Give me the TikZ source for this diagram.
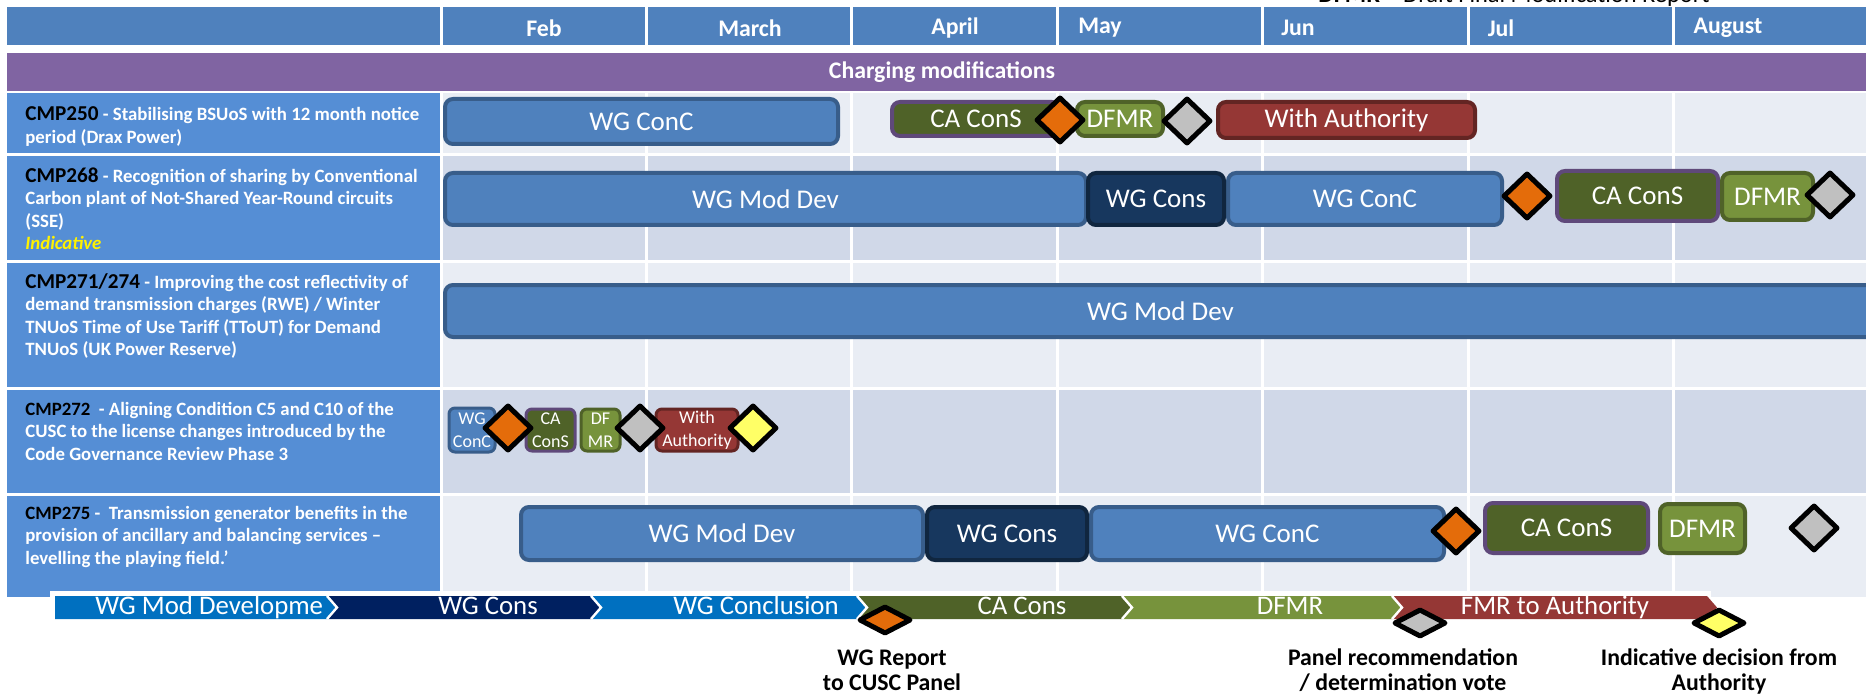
\documentclass[tikz,border=0pt]{standalone}
\usepackage{fontspec}
\setmainfont{Carlito}
\usetikzlibrary{shapes.geometric,fit}

\definecolor{hdrblue}{HTML}{4F81BD}
\definecolor{leftblue}{HTML}{558ED5}
\definecolor{sectpurple}{HTML}{8064A2}
\definecolor{bandA}{HTML}{E9EDF4}
\definecolor{bandB}{HTML}{D0D8E8}
\definecolor{wgblue}{HTML}{4F81BD}
\definecolor{wgline}{HTML}{385D8A}
\definecolor{wgnavy}{HTML}{17375E}
\definecolor{wgnavyline}{HTML}{10263F}
\definecolor{caolive}{HTML}{4F6228}
\definecolor{caline}{HTML}{5F497A}
\definecolor{dfgreen}{HTML}{77933C}
\definecolor{authred}{HTML}{953735}
\definecolor{authline}{HTML}{632523}
\definecolor{msorange}{HTML}{E46C0A}
\definecolor{msgray}{HTML}{C0C0C0}
\definecolor{msyellow}{HTML}{FFFF66}
\definecolor{chblue}{HTML}{0070C0}
\definecolor{chnavy}{HTML}{002060}

% modification number at the start of a row label
\newcommand{\cmpid}[2][10.6]{{\color{black}\fontsize{#1}{11.25}\selectfont #2}}

\begin{document}
\begin{tikzpicture}[
  x=0.5pt, y=-0.5pt,
  every node/.style={inner sep=0pt, text=white},
  month/.style={font=\fontsize{11.9}{14}\selectfont\bfseries},
  cmplbl/.style={anchor=base west, align=left,
    font=\fontsize{9.4}{11.25}\selectfont\bfseries},
  task/.style={draw, rounded corners=4pt, line width=2pt},
  bartxt/.style={font=\fontsize{13.5}{15}\selectfont},
  stub/.style={line width=1.5pt, rounded corners=3pt},
  stubtxt/.style={align=center, font=\fontsize{9}{11.5}\selectfont},
  wgbar/.style={task, fill=wgblue, draw=wgline},
  consbar/.style={task, fill=wgnavy, draw=wgnavyline},
  cabar/.style={task, fill=caolive, draw=caline},
  dfbar/.style={task, fill=dfgreen, draw=caolive},
  authbar/.style={task, fill=authred, draw=authline},
  mile/.style={diamond, draw=black, line width=2.5pt, line join=round,
    minimum width=24pt, minimum height=23pt},
  keymile/.style={mile, minimum width=26pt, minimum height=14pt},
  chevtxt/.style={anchor=base, font=\fontsize{13.4}{15}\selectfont},
  keylbl/.style={anchor=base, align=center, text=black,
    font=\fontsize{11.9}{12.5}\selectfont\bfseries}
]
\useasboundingbox (0,0) rectangle (1866,695);

\node[anchor=base west, text=black, font=\fontsize{12.2}{14}\selectfont]
  (dfmrkey) at (1318,3) {\textbf{DFMR} – Draft Final Modification Report};

% header row
\fill[hdrblue] (7,7) rectangle (439.5,45);
\foreach \i in {0,...,6}
  \fill[hdrblue] ({442.5+205.4*\i},7) rectangle ({439.5+205.4*(\i+1)},45);
\foreach \mx/\mname [count=\i] in {544/Feb,750/March,955/April,1100/May,1298/Jun,1501/Jul,1728/August}
  \node[month] (mon\i) at (\mx,28) {\mname};

\fill[sectpurple] (7,53) rectangle (1880,91);
\node[month] (section) at (942,72) {Charging modifications};

% banded rows
\foreach \ya/\yb/\band in {93/153/bandA,156/260/bandB,263/387/bandA,390/493/bandB,496/597/bandA} {
  \fill[leftblue] (7,\ya) rectangle (439.5,\yb);
  \foreach \i in {0,...,6}
    \fill[\band] ({442.5+205.4*\i},\ya) rectangle ({439.5+205.4*(\i+1)},\yb);
}

% row labels (base = last line)
\node[cmplbl] (cmp250) at (25,143.5) {\cmpid{CMP250} - Stabilising BSUoS with 12 month notice\\period (Drax Power)};
\node[cmplbl] (cmp268) at (25,249.5) {\cmpid{CMP268} - Recognition of sharing by Conventional\\Carbon plant of Not-Shared Year-Round circuits\\(SSE)\\{\color{yellow}\itshape Indicative}};
\node[cmplbl] (cmp271) at (25,355.5) {\cmpid{CMP271/274} - Improving the cost reflectivity of\\demand transmission charges (RWE) / Winter\\TNUoS Time of Use Tariff (TToUT) for Demand\\TNUoS (UK Power Reserve)};
\node[cmplbl] (cmp272) at (25,460) {\cmpid[9.4]{CMP272}\ \ - Aligning Condition C5 and C10 of the\\CUSC to the license changes introduced by the\\Code Governance Review Phase 3};
\node[cmplbl] (cmp275) at (25,564) {\cmpid[9.4]{CMP275} -\ \ Transmission generator benefits in the\\provision of ancillary and balancing services –\\levelling the playing field.’};

% CMP250
\node[wgbar, fit={(445,99) (838,144)}, label={[bartxt]center:WG ConC}] (r1conc) {};
\node[cabar, fit={(892,102) (1060,136)}, label={[bartxt]center:CA ConS}] (r1cas) {};
\node[dfbar, fit={(1077,102) (1163,136)}, label={[bartxt]center:DFMR}] (r1dfmr) {};
\node[authbar, fit={(1218,102) (1475,138)}, label={[bartxt]center:With Authority}] (r1auth) {};
\node[mile, fill=msorange] (r1rep) at (1060,120) {};
\node[mile, fill=msgray] (r1vote) at (1187,121) {};

% CMP268
\node[wgbar, fit={(445,173) (1086,225)}, label={[bartxt]center:WG Mod Dev}] (r2dev) {};
\node[wgbar, fit={(1228,173) (1502,225)}, label={[bartxt]center:WG ConC}] (r2conc) {};
\node[consbar, fit={(1088,173) (1224,225)}, label={[bartxt]center:WG Cons}] (r2cons) {};
\node[cabar, fit={(1557,171) (1718,221)}, label={[bartxt]center:CA ConS}] (r2cas) {};
\node[dfbar, fit={(1722,173) (1813,220)}, label={[bartxt]center:DFMR}] (r2dfmr) {};
\node[mile, fill=msorange] (r2rep) at (1527,196) {};
\node[mile, fill=msgray] (r2vote) at (1830,195) {};

% CMP271/274
\node[wgbar, fit={(445,285) (1876,337)}, label={[bartxt]center:WG Mod Dev}] (r3dev) {};

% CMP272
\node[wgbar, stub, fit={(449,408) (495,452)}, label={[stubtxt]center:{WG\\ConC}}] (r4conc) {};
\node[cabar, stub, fit={(526,409) (575,451)}, label={[stubtxt]center:{CA\\ConS}}] (r4cas) {};
\node[dfbar, stub, fit={(581,409) (620,451)}, label={[stubtxt]center:{DF\\MR}}] (r4dfmr) {};
\node[authbar, stub, fit={(656,409) (738,451)}, label={[stubtxt]center:{With\\Authority}}] (r4auth) {};
\node[mile, fill=msorange] (r4rep) at (508,428) {};
\node[mile, fill=msgray] (r4vote) at (640,428) {};
\node[mile, fill=msyellow] (r4dec) at (753,428) {};

% CMP275
\node[wgbar, fit={(521,507) (923,560)}, label={[bartxt]center:WG Mod Dev}] (r5dev) {};
\node[wgbar, fit={(1091,507) (1444,560)}, label={[bartxt]center:WG ConC}] (r5conc) {};
\node[consbar, fit={(927,507) (1087,560)}, label={[bartxt]center:WG Cons}] (r5cons) {};
\node[cabar, fit={(1485,503) (1648,553)}, label={[bartxt]center:CA ConS}] (r5cas) {};
\node[dfbar, fit={(1660,504) (1745,553)}, label={[bartxt]center:DFMR}] (r5dfmr) {};
\node[mile, fill=msorange] (r5rep) at (1456,531) {};
\node[mile, fill=msgray] (r5vote) at (1814,528) {};

% phase key along the bottom
\fill[white] (50,591) rectangle (1711,700);
\fill[chblue] (55,596) -- (327,596) -- (337,607.5) -- (327,619) -- (55,619) -- cycle;
\node[chevtxt, anchor=base west] (ph1) at (95,614) {WG Mod Developme};
\foreach \xa/\xb/\col in {327/591/chnavy,591/857/chblue,857/1122/caolive,1122/1392/dfgreen,1392/1707/authred}
  \fill[\col] (\xa,596) -- (\xb,596) -- ++(10,11.5) -- (\xb,619) -- (\xa,619) -- ++(10,-11.5) -- cycle;
\foreach \xb in {327,591,857,1122,1392}
  \draw[white, line width=1.2pt] (\xb,596) -- ++(10,11.5) -- (\xb,619);
\node[chevtxt] (ph2) at (488,614) {WG Cons};
\node[chevtxt] (ph3) at (756,614) {WG Conclusion};
\node[chevtxt] (ph4) at (1022,614) {CA Cons};
\node[chevtxt] (ph5) at (1290,614) {DFMR};
\node[chevtxt] (ph6) at (1555,614) {FMR to Authority};

\node[keymile, fill=msorange] (keyrep) at (885,620) {};
\node[keymile, fill=msgray] (keyvote) at (1420,623) {};
\node[keymile, fill=msyellow] (keydec) at (1719,623) {};
\node[keylbl] (lblrep) at (892,690) {WG Report\\to CUSC Panel};
\node[keylbl] (lblvote) at (1403,690) {Panel recommendation\\/ determination vote};
\node[keylbl] (lbldec) at (1719,690) {Indicative decision from\\Authority};
\end{tikzpicture}
\end{document}
